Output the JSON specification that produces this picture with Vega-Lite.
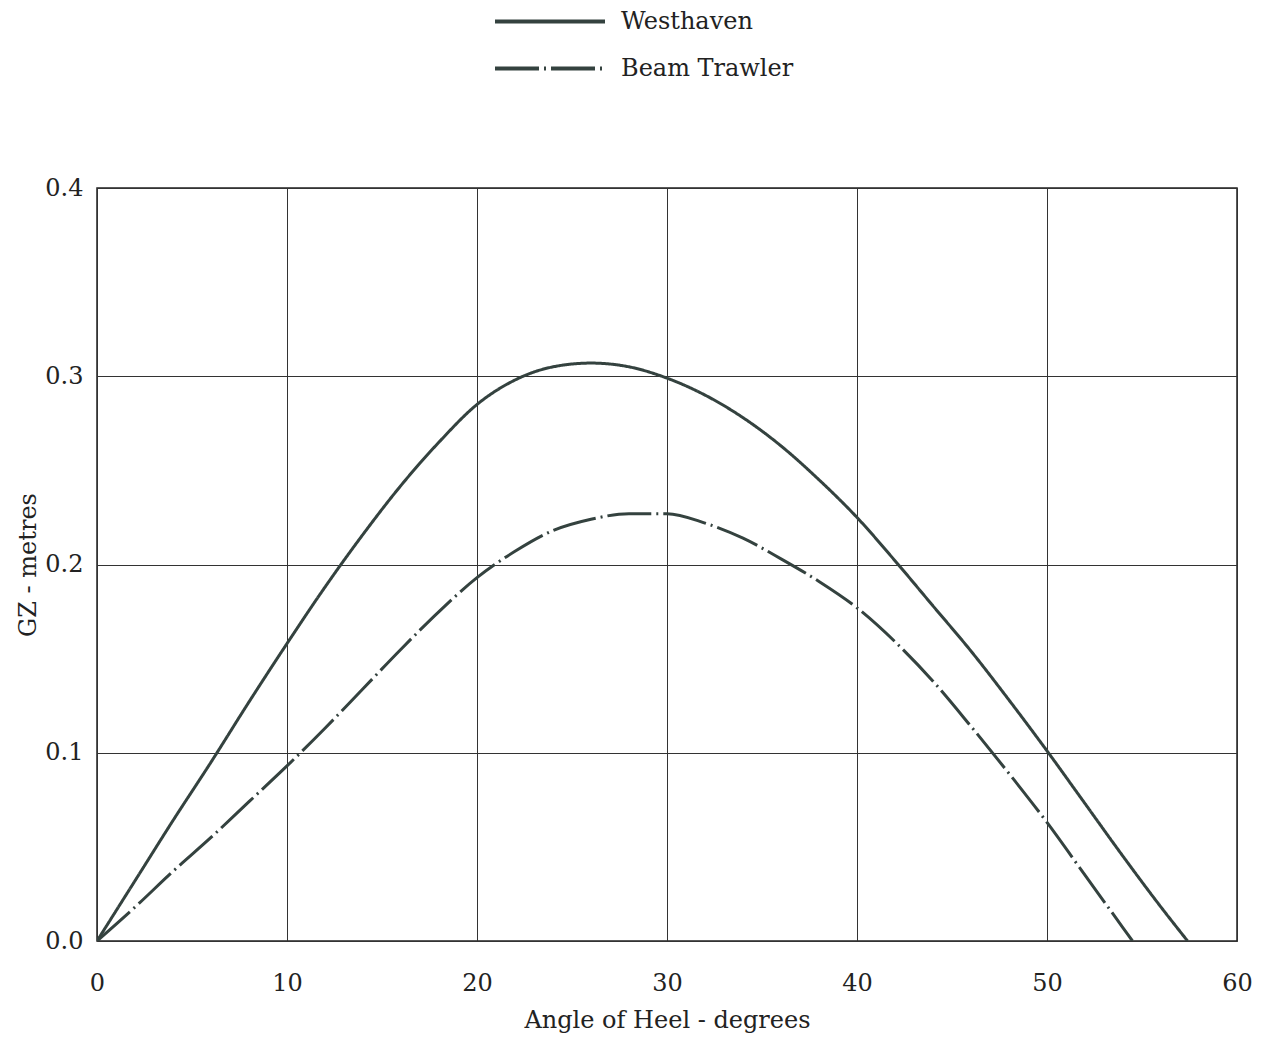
{
  "$schema": "https://vega.github.io/schema/vega-lite/v6.json",
  "width": 1140,
  "height": 753,
  "autosize": "none",
  "padding": {"left": 97, "top": 188, "right": 32, "bottom": 100},
  "background": "white",
  "data": {"values": [
    {"angle": 0, "gz": 0, "vessel": "Westhaven"},
    {"angle": 2, "gz": 0.032, "vessel": "Westhaven"},
    {"angle": 4, "gz": 0.064, "vessel": "Westhaven"},
    {"angle": 6, "gz": 0.095, "vessel": "Westhaven"},
    {"angle": 8, "gz": 0.127, "vessel": "Westhaven"},
    {"angle": 10, "gz": 0.158, "vessel": "Westhaven"},
    {"angle": 12, "gz": 0.188, "vessel": "Westhaven"},
    {"angle": 14, "gz": 0.216, "vessel": "Westhaven"},
    {"angle": 16, "gz": 0.242, "vessel": "Westhaven"},
    {"angle": 18, "gz": 0.265, "vessel": "Westhaven"},
    {"angle": 20, "gz": 0.285, "vessel": "Westhaven"},
    {"angle": 22, "gz": 0.298, "vessel": "Westhaven"},
    {"angle": 24, "gz": 0.305, "vessel": "Westhaven"},
    {"angle": 26, "gz": 0.307, "vessel": "Westhaven"},
    {"angle": 28, "gz": 0.305, "vessel": "Westhaven"},
    {"angle": 30, "gz": 0.299, "vessel": "Westhaven"},
    {"angle": 32, "gz": 0.290, "vessel": "Westhaven"},
    {"angle": 34, "gz": 0.278, "vessel": "Westhaven"},
    {"angle": 36, "gz": 0.263, "vessel": "Westhaven"},
    {"angle": 38, "gz": 0.245, "vessel": "Westhaven"},
    {"angle": 40, "gz": 0.225, "vessel": "Westhaven"},
    {"angle": 42, "gz": 0.202, "vessel": "Westhaven"},
    {"angle": 44, "gz": 0.178, "vessel": "Westhaven"},
    {"angle": 46, "gz": 0.154, "vessel": "Westhaven"},
    {"angle": 48, "gz": 0.128, "vessel": "Westhaven"},
    {"angle": 50, "gz": 0.101, "vessel": "Westhaven"},
    {"angle": 52, "gz": 0.073, "vessel": "Westhaven"},
    {"angle": 54, "gz": 0.045, "vessel": "Westhaven"},
    {"angle": 56, "gz": 0.018, "vessel": "Westhaven"},
    {"angle": 57.4, "gz": 0, "vessel": "Westhaven"},
    {"angle": 0, "gz": 0, "vessel": "Beam Trawler"},
    {"angle": 2, "gz": 0.018, "vessel": "Beam Trawler"},
    {"angle": 4, "gz": 0.037, "vessel": "Beam Trawler"},
    {"angle": 6, "gz": 0.055, "vessel": "Beam Trawler"},
    {"angle": 8, "gz": 0.074, "vessel": "Beam Trawler"},
    {"angle": 10, "gz": 0.093, "vessel": "Beam Trawler"},
    {"angle": 12, "gz": 0.113, "vessel": "Beam Trawler"},
    {"angle": 14, "gz": 0.134, "vessel": "Beam Trawler"},
    {"angle": 16, "gz": 0.155, "vessel": "Beam Trawler"},
    {"angle": 18, "gz": 0.175, "vessel": "Beam Trawler"},
    {"angle": 20, "gz": 0.193, "vessel": "Beam Trawler"},
    {"angle": 22, "gz": 0.207, "vessel": "Beam Trawler"},
    {"angle": 24, "gz": 0.218, "vessel": "Beam Trawler"},
    {"angle": 26, "gz": 0.224, "vessel": "Beam Trawler"},
    {"angle": 28, "gz": 0.227, "vessel": "Beam Trawler"},
    {"angle": 30, "gz": 0.227, "vessel": "Beam Trawler"},
    {"angle": 32, "gz": 0.222, "vessel": "Beam Trawler"},
    {"angle": 34, "gz": 0.214, "vessel": "Beam Trawler"},
    {"angle": 36, "gz": 0.203, "vessel": "Beam Trawler"},
    {"angle": 38, "gz": 0.191, "vessel": "Beam Trawler"},
    {"angle": 40, "gz": 0.177, "vessel": "Beam Trawler"},
    {"angle": 42, "gz": 0.159, "vessel": "Beam Trawler"},
    {"angle": 44, "gz": 0.138, "vessel": "Beam Trawler"},
    {"angle": 46, "gz": 0.114, "vessel": "Beam Trawler"},
    {"angle": 48, "gz": 0.089, "vessel": "Beam Trawler"},
    {"angle": 50, "gz": 0.063, "vessel": "Beam Trawler"},
    {"angle": 52, "gz": 0.035, "vessel": "Beam Trawler"},
    {"angle": 54, "gz": 0.007, "vessel": "Beam Trawler"},
    {"angle": 54.5, "gz": 0, "vessel": "Beam Trawler"}
  ]},
  "mark": {"type": "line", "strokeWidth": 3, "color": "#34423f", "clip": true, "interpolate": "monotone"},
  "encoding": {
    "x": {
      "field": "angle", "type": "quantitative",
      "scale": {"domain": [0, 60], "nice": false, "zero": false},
      "axis": {
        "title": "Angle of Heel - degrees",
        "values": [0, 10, 20, 30, 40, 50, 60],
        "ticks": false, "domain": false,
        "labelPadding": 30,
        "titlePadding": 13,
        "labelFlush": false
      }
    },
    "y": {
      "field": "gz", "type": "quantitative",
      "scale": {"domain": [0, 0.4], "nice": false},
      "axis": {
        "title": "GZ - metres",
        "values": [0, 0.1, 0.2, 0.3, 0.4],
        "format": ".1f",
        "ticks": false, "domain": false,
        "labelPadding": 14,
        "titlePadding": 4
      }
    },
    "strokeDash": {
      "field": "vessel", "type": "nominal",
      "sort": ["Westhaven", "Beam Trawler"],
      "scale": {"domain": ["Westhaven", "Beam Trawler"], "range": [[1, 0], [44, 5, 2, 5]]},
      "legend": {
        "title": null,
        "orient": "none",
        "legendX": 396,
        "legendY": -190,
        "symbolType": "stroke",
        "symbolSize": 12100,
        "symbolStrokeWidth": 4,
        "symbolStrokeColor": "#34423f",
        "labelFont": "DejaVu Serif",
        "labelFontSize": 24,
        "labelColor": "#222",
        "labelOffset": 14,
        "labelLimit": 400,
        "clipHeight": 47,
        "rowPadding": 0
      }
    }
  },
  "config": {
    "view": {"stroke": "#222", "strokeWidth": 1.5},
    "axis": {
      "grid": true,
      "gridColor": "#333",
      "gridOpacity": 1,
      "gridWidth": 1,
      "labelFont": "DejaVu Serif",
      "labelFontSize": 24,
      "labelColor": "#222",
      "titleFont": "DejaVu Serif",
      "titleFontSize": 24,
      "titleFontWeight": "normal",
      "titleColor": "#222"
    }
  }
}
